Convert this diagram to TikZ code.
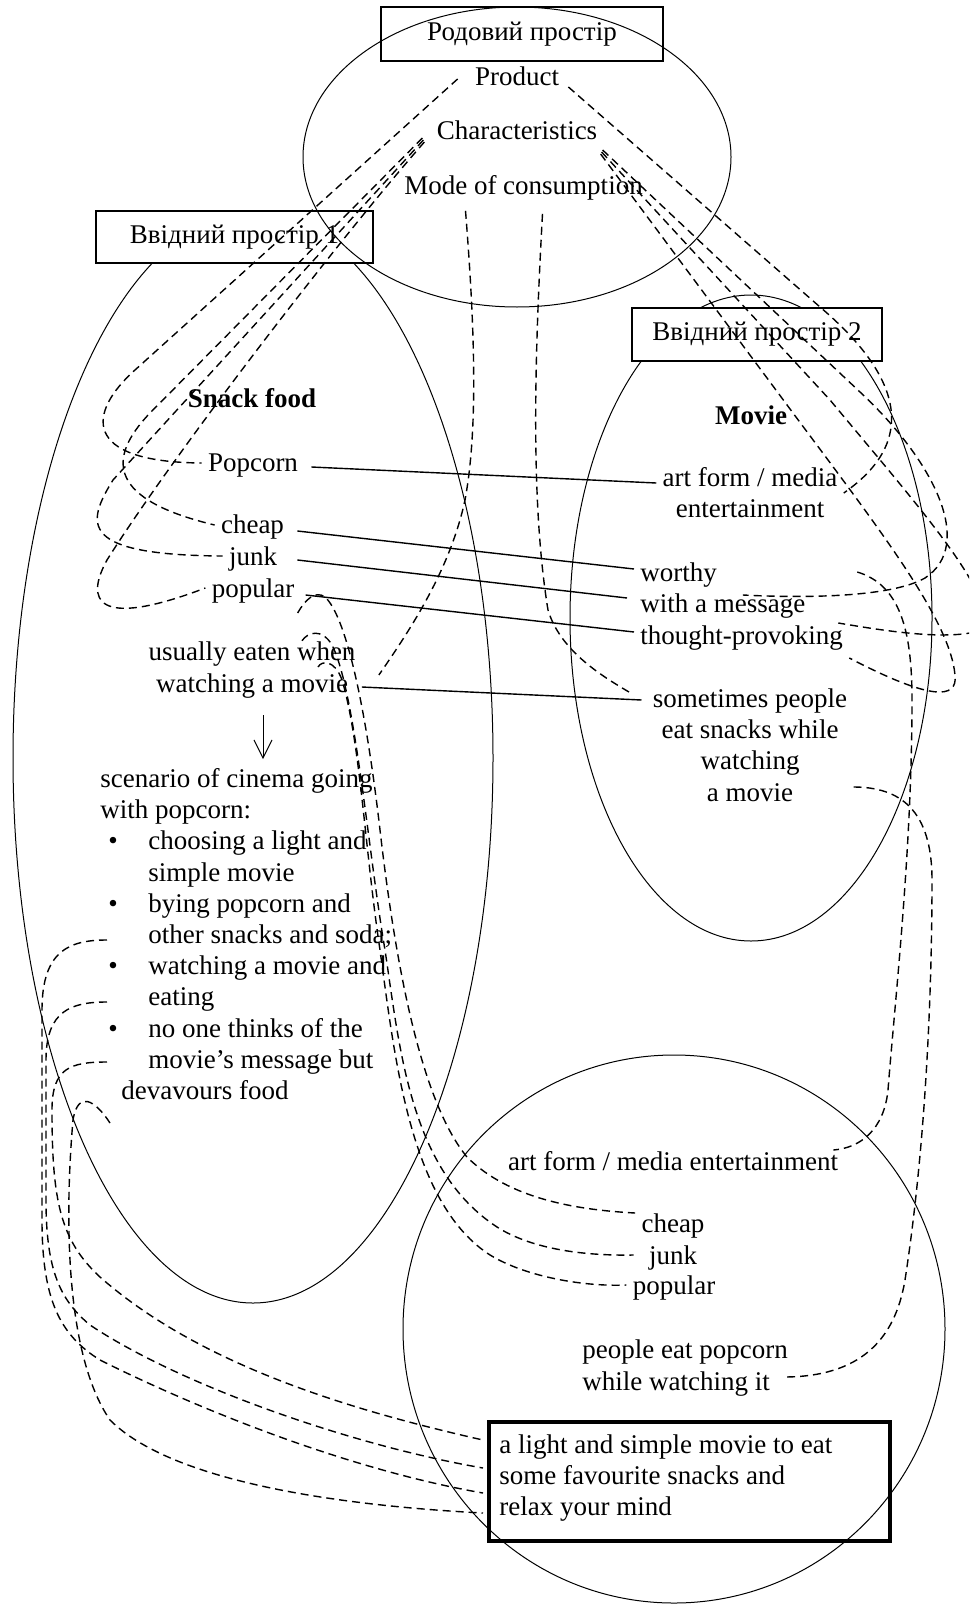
\documentclass[tikz,border=0pt]{standalone}
\usepackage{fontspec}
\setmainfont{Liberation Serif}
\usetikzlibrary{arrows.meta}

\tikzset{
  txt/.style={font=\fontsize{13.5}{15.6}\selectfont, inner sep=3pt},
  head/.style={txt, font=\fontsize{13.5}{15.6}\selectfont\bfseries},
  spacebox/.style={txt, draw, line width=0.6pt, minimum height=26pt},
  region/.style={line width=0.5pt},
  link/.style={line width=0.7pt},
  dashlink/.style={line width=0.7pt, dash pattern=on 4pt off 2.5pt},
}

\begin{document}
\begin{tikzpicture}[x=0.5pt,y=-0.5pt]
  \useasboundingbox (0,0) rectangle (969,1606);
  \clip (0,0) rectangle (969,1606);

  % input spaces
  \draw[region] (253,758) ellipse [x radius=120pt, y radius=272.5pt];
  \draw[region] (751,618) ellipse [x radius=90.5pt, y radius=161.5pt];
  \node[spacebox, fill=white, minimum width=138.5pt] (in1) at (234.5,237) {Ввідний простір 1};
  \node[spacebox, fill=white, minimum width=125pt, minimum height=26.5pt] (in2) at (757,334.5) {Ввідний простір 2};

  % generic space
  \draw[region] (517,157) ellipse [x radius=107pt, y radius=75pt];
  \node[spacebox, minimum width=141pt, minimum height=27pt] (gen) at (522,34) {Родовий простір};
  \node[txt] (prod) at (517,76) {Product};
  \node[txt] (char) at (517,130) {Characteristics};
  \node[txt] (mode) at (523.5,188) {Mode of consumption};

  % input space 1
  \node[head] (snack) at (252,398) {Snack food};
  \node[txt] (pop1) at (253,466) {Popcorn};
  \node[txt] (cheap1) at (252.5,527) {cheap};
  \node[txt] (junk1) at (253,559) {junk};
  \node[txt] (popular1) at (253,591) {popular};
  \node[txt, align=center] (usual) at (252,670) {usually eaten when\\watching a movie};
  \node[txt, inner sep=0pt, anchor=north west, align=left] (scen) at (100,768)
    {scenario of cinema going\\
     with popcorn:\\
     \hspace*{4pt}\makebox[20pt][l]{\textbullet}choosing a light and\\
     \hspace*{24pt}simple movie\\
     \hspace*{4pt}\makebox[20pt][l]{\textbullet}bying popcorn and\\
     \hspace*{24pt}other snacks and soda;\\
     \hspace*{4pt}\makebox[20pt][l]{\textbullet}watching a movie and\\
     \hspace*{24pt}eating\\
     \hspace*{4pt}\makebox[20pt][l]{\textbullet}no one thinks of the\\
     \hspace*{24pt}movie’s message but\\
     \hspace*{10.5pt}devavours food};

  % input space 2
  \node[head] (movie) at (751,415) {Movie};
  \node[txt, align=center] (art2) at (750,493) {art form / media\\entertainment};
  \node[txt, anchor=west] (worthy) at (634,575) {worthy};
  \node[txt, anchor=west] (msg) at (634,606) {with a message};
  \node[txt, anchor=west] (thought) at (634,638) {thought-provoking};
  \node[txt, align=center] (some) at (750,745) {sometimes people\\eat snacks while\\watching\\a movie};

  % blended space
  \draw[region] (674,1329) ellipse [x radius=135.5pt, y radius=137pt];
  \node[txt] (art3) at (673,1161) {art form / media entertainment};
  \node[txt] (cheap3) at (673,1226) {cheap};
  \node[txt] (junk3) at (673,1258) {junk};
  \node[txt] (popular3) at (674,1288) {popular};
  \node[txt, anchor=west, align=left] (people) at (576,1368) {people eat popcorn\\while watching it};
  \node[draw, line width=2pt, minimum width=200.5pt, minimum height=59.5pt, inner sep=0pt] (resbox) at (689.5,1481.5) {};
  \node[txt, inner sep=0pt, anchor=north west, align=left] (res) at (499,1434)
    {a light and simple movie to eat\\some favourite snacks and\\relax your mind};

  % cross-space mappings
  \draw[link] ([xshift=3.5pt,yshift=-0.5pt]pop1.east) -- ([yshift=5pt]art2.west);
  \draw[link] ([xshift=3.5pt,yshift=-2pt]cheap1.east) -- ([yshift=3pt]worthy.west);
  \draw[link] ([xshift=7pt,yshift=-0.5pt]junk1.east) -- ([xshift=-3.5pt,yshift=4pt]msg.west);
  \draw[link] ([xshift=2.5pt,yshift=-2pt]popular1.east) -- ([yshift=3pt]thought.west);
  \draw[link] ([yshift=-8.5pt]usual.east) -- ([xshift=-2.5pt,yshift=22.5pt]some.west);
  \draw[line width=0.5pt, -{Straight Barb[length=9pt,width=9pt]}]
    ([xshift=5.5pt,yshift=-5.5pt]usual.south) -- ([xshift=81.5pt,yshift=4.5pt]scen.north west);

  % generic space -> input 1
  \draw[dashlink] ([xshift=-5.5pt,yshift=-1.5pt]prod.west) -- (135,370)
    .. controls (88,412) and (80,462) .. ([yshift=1.5pt]pop1.west);
  \draw[dashlink] ([xshift=-4pt,yshift=-4pt]char.west) -- (150,413)
    .. controls (105,460) and (110,500) .. ([yshift=1pt]cheap1.west);
  \draw[dashlink] ([xshift=-3.5pt,yshift=-5pt]char.west) -- (113,480)
    .. controls (85,525) and (80,555) .. ([yshift=1.5pt]junk1.west);
  \draw[dashlink] ([xshift=-3pt,yshift=-6pt]char.west) .. controls (330,250) and (170,460) .. (107,560)
    .. controls (85,600) and (95,630) .. ([yshift=1.5pt]popular1.west);
  \draw[dashlink] ([xshift=-29pt,yshift=-2pt]mode.south) .. controls (475,330) and (478,430) .. (465,500)
    .. controls (450,570) and (410,630) .. ([xshift=8.5pt,yshift=-2.5pt]usual.east);

  % generic space -> input 2
  \draw[dashlink] ([xshift=1.5pt,yshift=-5.5pt]prod.east) -- (820,307)
    .. controls (900,375) and (920,440) .. (art2.east);
  \draw[dashlink] ([xshift=-1.5pt,yshift=-12pt]char.east) -- (793,413)
    .. controls (880,530) and (950,620) .. (955,675)
    .. controls (958,700) and (930,700) .. ([yshift=-10pt]thought.east);
  \draw[dashlink] ([xshift=-1pt,yshift=-11pt]char.east) -- (830,400)
    .. controls (930,520) and (1010,610) .. (975,632)
    .. controls (940,640) and (880,630) .. ([xshift=-5.5pt,yshift=7.5pt]thought.east);
  \draw[dashlink] ([xshift=-0.5pt,yshift=-10pt]char.east) -- (860,392)
    .. controls (935,462) and (975,545) .. (925,578)
    .. controls (890,598) and (800,598) .. ([xshift=10pt,yshift=5.5pt]msg.center);
  \draw[dashlink] ([xshift=9.5pt,yshift=-3.5pt]mode.south) .. controls (535,350) and (530,500) .. (548,610)
    .. controls (560,650) and (600,675) .. ([xshift=-8.5pt,yshift=-5pt]some.north west);

  % input 2 -> blend
  \draw[dashlink] ([xshift=67pt,yshift=1.5pt]worthy.east) .. controls (900,585) and (912,630) .. (912,700)
    .. controls (912,850) and (895,1000) .. (888,1090)
    .. controls (884,1130) and (860,1148) .. ([xshift=-5.5pt,yshift=5.5pt]art3.east);
  \draw[dashlink] ([yshift=-21pt]some.east) .. controls (900,787) and (932,810) .. (932,880)
    .. controls (932,1000) and (925,1150) .. (905,1280)
    .. controls (895,1340) and (860,1377) .. ([xshift=-5.5pt,yshift=-4.5pt]people.east);

  % input 1 -> blend
  \draw[dashlink] ([xshift=-1.5pt,yshift=-11pt]popular1.east) .. controls (305,600) and (315,590) .. (325,597)
    .. controls (345,615) and (365,700) .. (380,830)
    .. controls (395,960) and (420,1100) .. (467,1157)
    .. controls (510,1200) and (580,1210) .. ([yshift=6.5pt]cheap3.west);
  \draw[dashlink] ([xshift=25pt,yshift=-2.5pt]usual.north) .. controls (308,632) and (322,628) .. (332,645)
    .. controls (355,690) and (368,850) .. (385,950)
    .. controls (400,1050) and (410,1170) .. (497,1227)
    .. controls (530,1248) and (580,1256) .. ([xshift=-4.5pt,yshift=1.5pt]junk3.west);
  \draw[dashlink] ([xshift=33pt,yshift=1.5pt]usual.center) .. controls (322,660) and (335,660) .. (342,680)
    .. controls (360,740) and (365,850) .. (380,950)
    .. controls (395,1060) and (410,1200) .. (487,1253)
    .. controls (520,1275) and (580,1287) .. ([yshift=1.5pt]popular3.west);
  \draw[dashlink] ([xshift=3.5pt,yshift=-86pt]scen.north west) .. controls (70,940) and (42,950) .. (42,1010)
    -- (42,1220) .. controls (42,1300) and (60,1335) .. (100,1360)
    .. controls (200,1410) and (350,1470) .. ([xshift=-2pt,yshift=-5.75pt]resbox.west);
  \draw[dashlink] ([xshift=3.5pt,yshift=-117pt]scen.north west) .. controls (72,1002) and (46,1010) .. (46,1060)
    -- (46,1200) .. controls (46,1270) and (60,1300) .. (90,1325)
    .. controls (180,1385) and (350,1445) .. ([xshift=-2pt,yshift=6.75pt]resbox.west);
  \draw[dashlink] ([xshift=3.5pt,yshift=-147pt]scen.north west) .. controls (70,1062) and (52,1068) .. (52,1110)
    .. controls (52,1200) and (60,1240) .. (100,1277)
    .. controls (200,1365) and (350,1410) .. ([xshift=-2pt,yshift=20.75pt]resbox.west);
  \draw[dashlink] ([xshift=5pt,yshift=-177.5pt]scen.north west) .. controls (95,1100) and (78,1090) .. (73,1120)
    .. controls (66,1200) and (62,1350) .. (110,1420)
    .. controls (170,1480) and (330,1505) .. ([xshift=-2pt,yshift=-15.75pt]resbox.west);
\end{tikzpicture}
\end{document}
